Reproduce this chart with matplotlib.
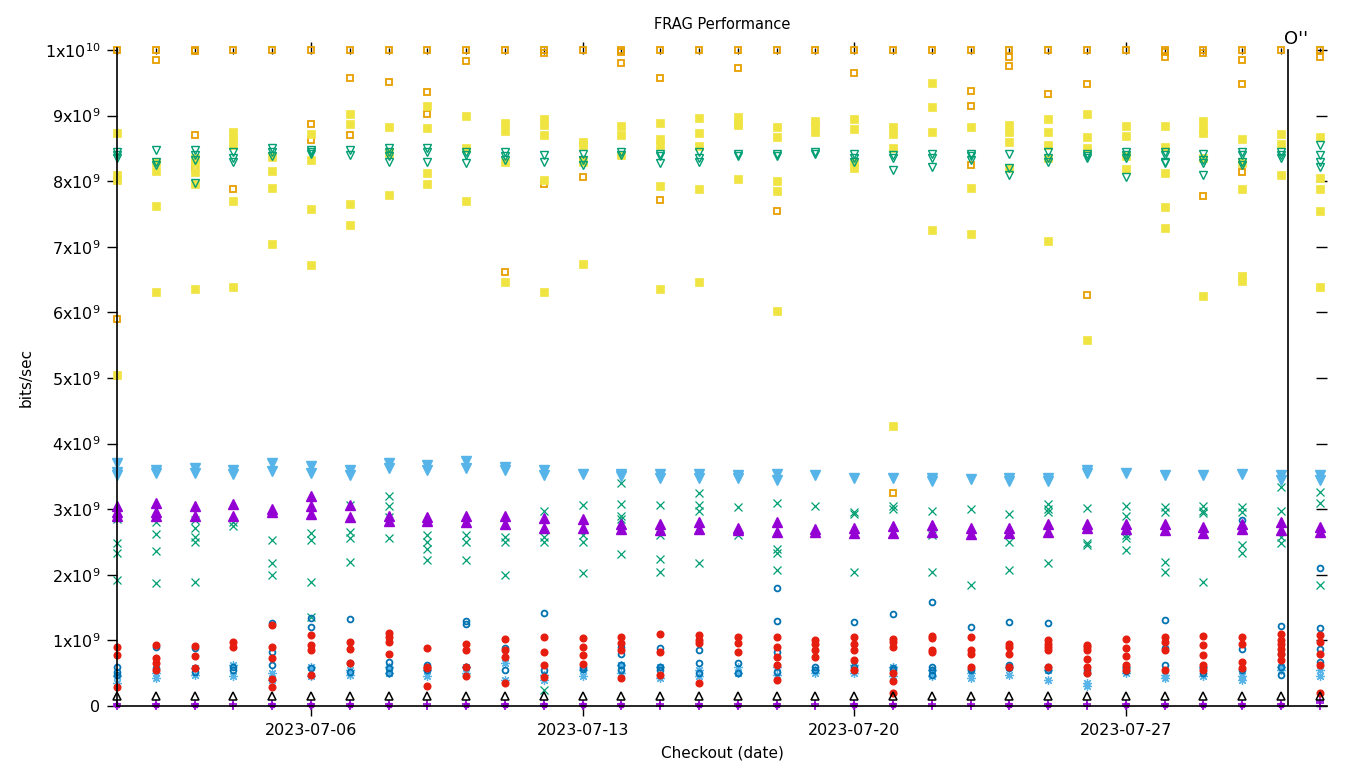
import matplotlib as mpl
mpl.use('Agg')
import matplotlib.pyplot as plt
import matplotlib.dates as mdates
from matplotlib.ticker import MultipleLocator, FuncFormatter
import pandas as pd

font_size = 11.5
mpl.rcParams['font.size'] = font_size
mpl.rcParams['font.family'] = ['DejaVu Sans']

# one entry per checkout day, 2023-07-01 .. 2023-08-01, values in 1e9 bits/sec
dates = pd.date_range('2023-07-01', '2023-08-01', freq='D')

purple_plus = [[0.0, 0.03]] * 31 + [[0.0, 0.04, 0.08]]
purple_sq = [1, 1, 1, 0, 1, 1, 1, 1, 0, 1, 1, 1, 1, 1, 0, 1, 1, 1, 0, 1, 1, 0, 0, 1, 1, 0, 1, 1, 1, 1, 1, 0]

green_x = [
    [2.85, 2.48, 2.33, 1.92], [2.8, 2.62, 2.36, 1.87], [2.83, 2.71, 2.58, 2.5, 1.89], [2.8, 2.75],
    [2.53, 2.18, 2.0], [2.63, 2.53, 1.89, 1.35], [3.07, 2.65, 2.56, 2.2], [3.2, 3.05, 2.88, 2.56],
    [2.6, 2.5, 2.4, 2.22], [2.6, 2.5, 2.22], [2.58, 2.5, 2.0], [2.98, 2.58, 2.5, 0.25],
    [3.06, 2.6, 2.5, 2.03], [3.4, 3.08, 2.9, 2.85, 2.32], [3.06, 2.6, 2.24, 2.05], [3.25, 3.06, 2.98, 2.18],
    [3.03, 2.6], [3.1, 2.4, 2.33, 2.08], [3.05], [2.95, 2.92, 2.05],
    [3.05, 3.0], [2.97, 2.6, 2.05], [3.0, 2.6, 1.85], [2.93, 2.5, 2.08],
    [3.08, 3.0, 2.95, 2.18], [3.02, 2.48, 2.45], [3.05, 2.9, 2.6, 2.56, 2.38], [3.03, 2.95, 2.2, 2.04],
    [3.05, 2.97, 2.94, 1.89], [3.03, 2.95, 2.45, 2.33], [3.34, 2.98, 2.58, 2.48], [3.26, 3.09, 1.84],
]

lb_star = [
    [0.35, 0.45], [0.5, 0.43], [0.58, 0.47], [0.62, 0.45], [0.5, 0.4], [0.6, 0.45], [0.55, 0.48], [0.6, 0.5],
    [0.55, 0.45], [0.6, 0.5], [0.65, 0.4], [0.48, 0.4], [0.55, 0.45], [0.62, 0.5], [0.6, 0.42], [0.55, 0.45],
    [0.6, 0.5], [0.6, 0.48], [0.55, 0.5], [0.62, 0.5], [0.6, 0.45], [0.55, 0.45], [0.5, 0.42], [0.6, 0.48],
    [0.55, 0.4], [0.35, 0.3], [0.6, 0.5], [0.48, 0.42], [0.6, 0.45], [0.45, 0.4], [0.6, 0.55], [0.55, 0.45],
]

orange_sq = [
    [10, 5.9], [10, 9.85], [10, 9.98, 8.7, 8.2], [10, 7.88], [10], [10, 8.87, 8.63], [10, 9.58, 8.7], [10, 9.51],
    [10, 9.36, 9.02], [10, 9.83], [10, 6.62], [10, 9.95, 7.95], [10, 8.33, 8.06], [10, 9.97, 9.8], [10, 9.57, 7.72], [10],
    [10, 9.72], [10, 7.55], [10], [10, 9.65], [10, 3.24], [10], [10, 9.37, 9.15, 8.25], [10, 9.9, 9.76],
    [10, 9.33], [10, 9.48, 6.27], [10], [10, 9.97, 9.9], [10, 9.95, 7.78], [10, 9.85, 9.48, 8.14], [10], [10, 9.89],
]

yellow_sq = [
    [8.73, 8.1, 8.02, 5.05], [8.3, 8.15, 7.62, 6.31], [8.35, 8.28, 8.14, 7.96, 6.35], [8.75, 8.65, 8.55, 7.7, 6.39],
    [8.37, 8.15, 7.9, 7.05], [8.72, 8.33, 7.58, 6.72], [9.02, 8.87, 7.66, 7.33], [8.83, 8.43, 7.79],
    [9.15, 8.81, 8.13, 7.95], [8.99, 8.5, 7.7], [8.88, 8.77, 8.3, 6.46], [8.95, 8.85, 8.7, 8.02, 6.31],
    [8.6, 8.55, 8.3, 6.74], [8.84, 8.7, 8.4], [8.88, 8.65, 8.55, 7.92, 6.36], [8.97, 8.73, 8.54, 7.88, 6.46],
    [8.98, 8.9, 8.85, 8.04], [8.82, 8.68, 8.0, 7.85, 6.02], [8.92, 8.85, 8.75], [8.95, 8.8, 8.3, 8.2],
    [8.82, 8.72, 8.5, 4.27], [9.5, 9.13, 8.75, 7.26], [8.83, 7.9, 7.2], [8.85, 8.75, 8.6, 8.2],
    [8.95, 8.75, 8.55, 8.35, 7.09], [9.02, 8.68, 8.5, 5.58], [8.84, 8.69, 8.38, 8.19], [8.84, 8.52, 8.12, 7.6, 7.29],
    [8.92, 8.8, 8.74, 8.35, 6.25], [8.64, 8.28, 7.88, 6.55, 6.48], [8.72, 8.57, 8.1], [8.67, 8.05, 7.88, 7.55, 6.39],
]

blue_circ = [
    [0.6, 0.52, 0.47], [0.9, 0.58], [0.88, 0.52], [0.6, 0.55], [1.26, 0.82, 0.62], [1.34, 1.2, 0.58],
    [1.32, 0.65, 0.52], [0.67, 0.58, 0.5], [0.62, 0.55], [1.3, 1.25, 0.6], [0.88, 0.55], [1.42, 0.55],
    [0.56, 0.6], [0.9, 0.8, 0.62, 0.55], [0.88, 0.6, 0.55], [0.85, 0.65, 0.5], [0.65, 0.5], [1.8, 1.3, 0.83, 0.52],
    [0.6, 0.55], [1.28, 0.6, 0.55], [1.4, 0.58, 0.55], [1.58, 0.6, 0.55, 0.48], [1.2, 0.57, 0.55], [1.28, 0.62, 0.58],
    [1.27, 0.6, 0.55], [0.55, 0.5], [0.58, 0.53], [1.31, 0.88, 0.62], [0.5, 0.58], [2.83, 0.87, 0.55],
    [1.22, 0.8, 0.6, 0.47], [2.1, 1.19, 0.87, 0.67],
]

red_circ = [
    [0.9, 0.78, 0.29], [0.93, 0.73, 0.66, 0.55], [0.91, 0.76, 0.58], [0.97, 0.9], [1.23, 0.9, 0.73, 0.41, 0.29],
    [1.08, 0.93, 0.85, 0.47], [0.98, 0.87, 0.65], [1.12, 1.05, 0.98, 0.8], [0.88, 0.6, 0.58, 0.3],
    [0.95, 0.85, 0.6, 0.45], [1.02, 0.85, 0.75, 0.35], [1.05, 0.82, 0.62, 0.44], [1.03, 0.9, 0.78, 0.64],
    [1.05, 0.96, 0.85, 0.43], [1.1, 0.82, 0.47], [1.08, 1.0, 0.96, 0.35], [1.05, 0.96, 0.82],
    [1.05, 0.9, 0.75, 0.62, 0.4], [1.0, 0.95, 0.85, 0.75], [1.05, 0.95, 0.85, 0.7, 0.55],
    [1.02, 0.97, 0.9, 0.5, 0.38, 0.2], [1.07, 1.03, 0.85, 0.82], [1.05, 0.85, 0.8, 0.6], [0.95, 0.9, 0.8, 0.6],
    [1.0, 0.95, 0.9, 0.85, 0.6], [0.93, 0.9, 0.85, 0.72, 0.6, 0.5], [1.02, 0.88, 0.76, 0.62, 0.55],
    [1.05, 0.97, 0.85, 0.55], [1.07, 0.93, 0.78, 0.62, 0.55], [1.05, 0.95, 0.67, 0.58],
    [1.1, 1.0, 0.95, 0.87, 0.8, 0.7], [1.08, 0.98, 0.8, 0.62, 0.2],
]

black_tri = [[0.16]] * 32

purple_tri = [
    [3.05, 2.95, 2.9], [3.1, 2.95, 2.9], [3.05, 2.9], [3.08, 2.9], [3.0, 2.95], [3.2, 3.05, 2.93], [3.07, 2.88],
    [2.9, 2.82], [2.88, 2.82], [2.9, 2.8], [2.9, 2.78], [2.87, 2.72], [2.85, 2.72], [2.78, 2.7], [2.78, 2.68],
    [2.8, 2.7], [2.72, 2.68], [2.8, 2.65], [2.7, 2.66], [2.72, 2.64], [2.75, 2.64], [2.76, 2.65], [2.72, 2.62],
    [2.72, 2.64], [2.78, 2.66], [2.78, 2.72], [2.78, 2.7], [2.77, 2.68], [2.73, 2.64], [2.78, 2.7], [2.8, 2.68],
    [2.73, 2.66],
]

green_tri = [
    [8.45, 8.4, 8.35], [8.48, 8.3, 8.25], [8.47, 8.4, 8.33, 7.98], [8.45, 8.35, 8.3], [8.5, 8.45, 8.38],
    [8.48, 8.45, 8.42], [8.47, 8.4], [8.5, 8.45, 8.38, 8.3], [8.5, 8.45, 8.3], [8.45, 8.4, 8.28],
    [8.45, 8.38, 8.32], [8.4, 8.3], [8.42, 8.32, 8.25], [8.45, 8.4], [8.42, 8.38, 8.28], [8.45, 8.35, 8.3],
    [8.42, 8.38], [8.42, 8.38], [8.45, 8.42], [8.42, 8.35, 8.3], [8.4, 8.35, 8.17], [8.42, 8.35, 8.22],
    [8.42, 8.38, 8.32], [8.42, 8.2, 8.1], [8.45, 8.35, 8.3], [8.42, 8.38, 8.35], [8.45, 8.4, 8.35, 8.06],
    [8.45, 8.4, 8.3, 8.28], [8.42, 8.33, 8.28, 8.1], [8.45, 8.4, 8.3, 8.25], [8.45, 8.4, 8.35],
    [8.55, 8.4, 8.3, 8.22],
]

lb_tri = [
    [3.7, 3.57, 3.52], [3.6, 3.55], [3.63, 3.55], [3.6, 3.54], [3.7, 3.58], [3.66, 3.55], [3.6, 3.52],
    [3.7, 3.63], [3.67, 3.6], [3.74, 3.63], [3.64, 3.6], [3.6, 3.52], [3.53], [3.54, 3.5], [3.53, 3.48],
    [3.54, 3.47], [3.52, 3.47], [3.54, 3.45], [3.52], [3.48], [3.47], [3.48, 3.43], [3.46], [3.47, 3.43],
    [3.48, 3.43], [3.6, 3.55], [3.55], [3.52], [3.52], [3.53], [3.52, 3.45], [3.52, 3.44],
]

event_date = pd.Timestamp('2023-07-31 04:20')
event_label = "O''"


def flatten(per_day):
    xs, ys = [], []
    for d, vals in zip(dates, per_day):
        for v in vals:
            xs.append(d)
            ys.append(v * 1e9)
    return xs, ys


def draw(ax, per_day, color, marker, size, filled=False, mew=1.0):
    xs, ys = flatten(per_day)
    ax.plot(xs, ys, linestyle='none', marker=marker, markersize=size,
            markerfacecolor=color if filled else 'none', markeredgecolor=color,
            markeredgewidth=mew, clip_on=False)


def ylabel_fmt(v, pos):
    if v == 0:
        return '0'
    e = 10 if v >= 1e10 - 1 else 9
    m = int(round(v / 10 ** e))
    return f'{m}x10$^{{{e}}}$'


fig = plt.figure(figsize=(13.6, 7.68), dpi=100)
ax = fig.add_axes([117 / 1360, 62 / 768, 1210 / 1360, 658 / 768])

draw(ax, purple_plus, '#9400d3', '+', 6, mew=1.2)
xs = [d for d, f in zip(dates, purple_sq) if f]
ax.plot(xs, [0.01e9] * len(xs), linestyle='none', marker='s', markersize=3.5,
        color='#9400d3', clip_on=False)
draw(ax, green_x, '#009e73', 'x', 5.5, mew=0.9)
draw(ax, lb_star, '#56b4e9', (8, 2, 0), 6.5, mew=0.9)
draw(ax, orange_sq, '#e69f00', 's', 5, mew=1.3)
draw(ax, yellow_sq, '#f0e442', 's', 5.3, filled=True, mew=0.5)
draw(ax, blue_circ, '#0072b2', 'o', 4.2, mew=1.3)
draw(ax, red_circ, '#e51e10', 'o', 4.8, filled=True)
draw(ax, black_tri, 'black', '^', 6.3, mew=1.1)
draw(ax, purple_tri, '#9400d3', '^', 6.5, filled=True)
draw(ax, green_tri, '#009e73', 'v', 6.3, mew=1.0)
draw(ax, lb_tri, '#56b4e9', 'v', 6.5, filled=True)

ax.axvline(event_date, color='black', linewidth=1.2, ymax=1 - 2 / 658)
ax.annotate(event_label, xy=(event_date, 1), xycoords=('data', 'axes fraction'),
            xytext=(-3, 0), textcoords='offset points', ha='left', va='bottom', fontsize=13)

ax.set_xlim(pd.Timestamp('2023-07-01'), pd.Timestamp('2023-08-01 04:30'))
ax.set_ylim(0, 1e10 + 2 / 65.6 * 1e9)

ax.xaxis.set_major_locator(mdates.DayLocator(bymonthday=[6, 13, 20, 27]))
ax.xaxis.set_major_formatter(mdates.DateFormatter('%Y-%m-%d'))
ax.yaxis.set_major_locator(MultipleLocator(1e9))
ax.yaxis.set_major_formatter(FuncFormatter(ylabel_fmt))
ax.tick_params(direction='out', length=7, width=1, pad=5, labelsize=font_size)

for s in ['top', 'right']:
    ax.spines[s].set_visible(False)
for s in ['left', 'bottom']:
    ax.spines[s].set_linewidth(1.2)

top = ax.secondary_xaxis('top')
top.xaxis.set_major_locator(mdates.DayLocator(bymonthday=[6, 13, 20, 27]))
top.xaxis.set_minor_locator(mdates.DayLocator())
top.tick_params(which='major', direction='inout', length=8, width=1, labeltop=False)
top.tick_params(which='minor', direction='in', length=4, width=1)
top.spines['top'].set_visible(False)

right = ax.secondary_yaxis('right')
right.yaxis.set_major_locator(MultipleLocator(1e9))
right.tick_params(direction='in', length=8, width=1, labelright=False)
right.spines['right'].set_visible(False)

ax.set_title('FRAG Performance', fontsize=10.5, pad=14)
ax.set_xlabel('Checkout (date)', fontsize=11, labelpad=6)
ax.set_ylabel('bits/sec', fontsize=11, labelpad=8)

plt.savefig('out.png', dpi=100)
